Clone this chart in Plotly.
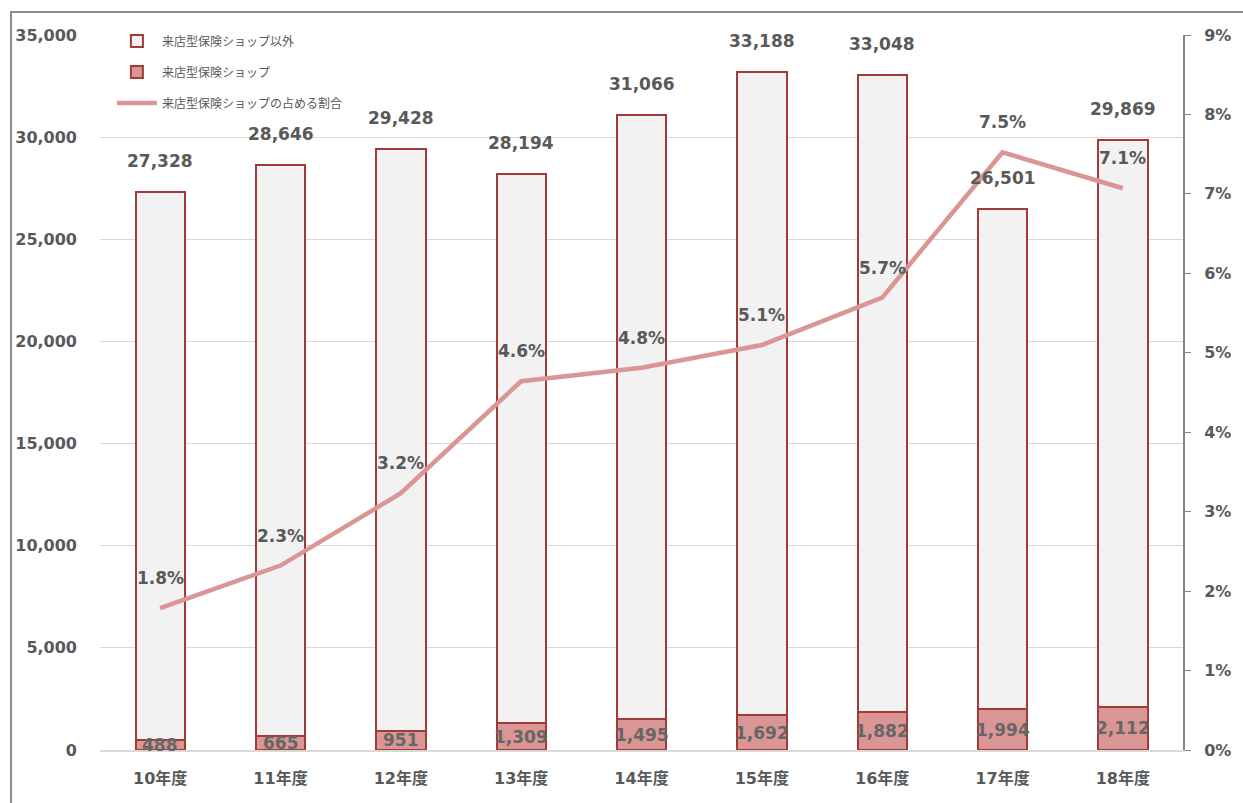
import plotly.graph_objects as go

categories = ["10年度", "11年度", "12年度", "13年度", "14年度", "15年度", "16年度", "17年度", "18年度"]
totals = [27328, 28646, 29428, 28194, 31066, 33188, 33048, 26501, 29869]
shop = [488, 665, 951, 1309, 1495, 1692, 1882, 1994, 2112]
share_labels = ["1.8%", "2.3%", "3.2%", "4.6%", "4.8%", "5.1%", "5.7%", "7.5%", "7.1%"]
left_ticks = [0, 5000, 10000, 15000, 20000, 25000, 30000, 35000]
left_tick_text = ["0", "5,000", "10,000", "15,000", "20,000", "25,000", "30,000", "35,000"]

other = [t - s for t, s in zip(totals, shop)]
share_exact = [s / t for s, t in zip(shop, totals)]

FONT = "DejaVu Sans, Noto Sans CJK JP, sans-serif"
GRAY = "#595959"
EDGE = "#A23A37"

fig = go.Figure()
fig.add_trace(go.Bar(
    x=categories, y=shop, name="来店型保険ショップ",
    marker=dict(color="#DA9694", line=dict(color=EDGE, width=2)),
    width=0.41, legendrank=2, legendgroup="b", hoverinfo="skip",
))
fig.add_trace(go.Bar(
    x=categories, y=other, name="来店型保険ショップ以外",
    marker=dict(color="#F2F2F2", line=dict(color=EDGE, width=2)),
    width=0.41, legendrank=1, legendgroup="a", hoverinfo="skip",
))
fig.add_trace(go.Scatter(
    x=categories, y=share_exact, name="来店型保険ショップの占める割合",
    mode="lines", line=dict(color="#DA9694", width=4.5),
    yaxis="y2", legendrank=3, legendgroup="c", hoverinfo="skip",
))

annotations = []
for c, t in zip(categories, totals):
    annotations.append(dict(x=c, y=t, xref="x", yref="y", text=f"{t:,}", showarrow=False,
                            yshift=31, font=dict(family=FONT, size=17, color=GRAY, weight="bold")))
for c, s in zip(categories, shop):
    annotations.append(dict(x=c, y=s / 2, xref="x", yref="y", text=f"{s:,}", showarrow=False,
                            font=dict(family=FONT, size=17, color="#666666", weight="bold")))
for c, p, lab in zip(categories, share_exact, share_labels):
    annotations.append(dict(x=c, y=p, xref="x", yref="y2", text=lab, showarrow=False,
                            yshift=30, font=dict(family=FONT, size=17, color=GRAY, weight="bold")))

fig.update_layout(
    width=1243, height=803,
    margin=dict(l=100, r=60, t=35, b=53),
    paper_bgcolor="white", plot_bgcolor="white",
    barmode="stack", bargap=0.59,
    font=dict(family=FONT, color=GRAY),
    showlegend=True,
    legend=dict(x=0.011, y=1.012, xanchor="left", yanchor="top",
                bgcolor="rgba(0,0,0,0)", traceorder="grouped", tracegroupgap=12,
                font=dict(family=FONT, size=12, color=GRAY), itemwidth=40),
    xaxis=dict(showgrid=False, showline=True, linecolor="#D9D9D9", linewidth=2,
               ticks="", tickfont=dict(family=FONT, size=16, color=GRAY, weight="bold"),
               ticklabelstandoff=13),
    yaxis=dict(range=[0, 35000], tickmode="array", tickvals=left_ticks, ticktext=left_tick_text,
               showgrid=True, gridcolor="#D9D9D9", gridwidth=1, zeroline=False, showline=False,
               tickfont=dict(family=FONT, size=16, color=GRAY, weight="bold"),
               ticklabelstandoff=22),
    yaxis2=dict(range=[0, 0.09], dtick=0.01, tickformat=".0%", overlaying="y", side="right",
                showgrid=False, zeroline=False, showline=True, linecolor="#868686", linewidth=2,
                ticks="outside", ticklen=6, tickcolor="#868686", tickwidth=1,
                tickfont=dict(family=FONT, size=16, color=GRAY, weight="bold"),
                ticklabelstandoff=10),
    annotations=annotations,
    shapes=[dict(type="rect", xref="paper", yref="paper",
                 x0=(11 - 100) / 1083, x1=(1260 - 100) / 1083,
                 y0=(750 - 820) / 715, y1=(750 - 12) / 715,
                 line=dict(color="#8C8C8C", width=2), fillcolor="rgba(0,0,0,0)", layer="below")],
)

fig.write_html("out.html")
